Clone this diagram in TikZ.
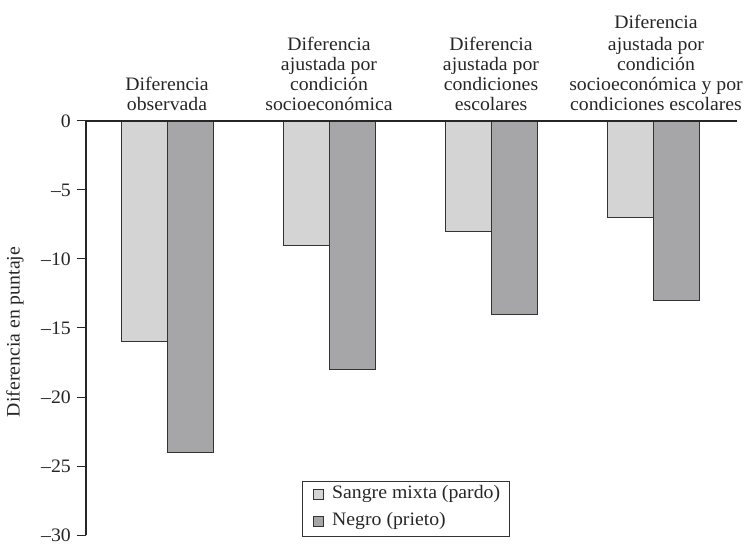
\documentclass[tikz,border=0pt]{standalone}
\usepackage{fontspec}
\setmainfont[FakeStretch=1.04]{Liberation Serif}
\begin{document}
\begin{tikzpicture}[x=1pt,y=-1pt,
  lbl/.style={font=\fontsize{19}{20}\selectfont, text=black!85, inner sep=0pt},
  ticklbl/.style={lbl, anchor=east},
  grouplbl/.style={lbl, align=center, anchor=south},
  lightbar/.style={draw=black!80, line width=0.8pt, fill={rgb,255:red,212;green,212;blue,212}},
  darkbar/.style={draw=black!80, line width=0.8pt, fill={rgb,255:red,166;green,166;blue,169}},
  axisline/.style={draw=black!85, line width=1.4pt}]
\useasboundingbox (0,0) rectangle (747,545);
% value v maps to y = 121 - 13.8 v
\def\yz{121}
\def\ys{13.8}
% bars: light (sangre mixta) and dark (negro)
\foreach \c/\a/\b in {167/16/24, 329/9/18, 491/8/14, 653/7/13}{
  \path[lightbar] (\c-46,\yz) rectangle (\c,\yz+\a*\ys);
  \path[darkbar]  (\c,\yz) rectangle (\c+46,\yz+\b*\ys);
}
% axes
\draw[axisline] (86,\yz+30*\ys) -- (86,\yz) -- (737,\yz);
\foreach \v in {0,5,...,30}{
  \draw[black!85, line width=1pt] (77,\yz+\v*\ys) -- (86,\yz+\v*\ys);
}
\node[ticklbl] (t0) at (71,\yz) {0};
\foreach \v in {5,10,...,30}{
  \node[ticklbl] (t\v) at (71,\yz+\v*\ys) {–\v};
}
\node[lbl, rotate=90] (ylab) at (15,332) {Diferencia en puntaje};
% group captions
\node[grouplbl] (g1) at (167,111) {Diferencia\\observada};
\node[grouplbl] (g2) at (329,111) {Diferencia\\ajustada por\\condición\\socioeconómica};
\node[grouplbl] (g3) at (491,111) {Diferencia\\ajustada por\\condiciones\\escolares};
\node[grouplbl] (g4) at (656,111) {Diferencia\\[2pt]ajustada por\\condición\\socioeconómica y por\\condiciones escolares};
% legend
\draw[black!80, line width=1pt] (302,481) rectangle (509,536);
\path[lightbar, line width=0.7pt] (313,489) rectangle (323,499);
\path[darkbar, line width=0.7pt] (313,516) rectangle (323,526);
\node[lbl, anchor=west] (l1) at (332,494) {Sangre mixta (pardo)};
\node[lbl, anchor=west] (l2) at (332,521) {Negro (prieto)};
\end{tikzpicture}
\end{document}
